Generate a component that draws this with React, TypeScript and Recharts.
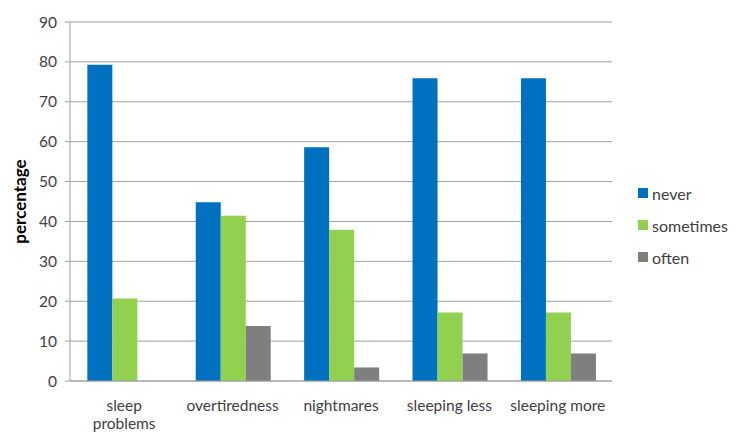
import { Bar, BarChart, CartesianGrid, Legend, XAxis, YAxis } from "recharts";

// Sleep-complaint survey: share of respondents per answer, Excel-style grouped bars.

const categories = ["sleep\nproblems", "overtiredness", "nightmares", "sleeping less", "sleeping more"];
const seriesNames = ["never", "sometimes", "often"];
const never = [79.3, 44.8, 58.6, 75.9, 75.9];
const sometimes = [20.7, 41.4, 37.9, 17.2, 17.2];
const often = [0, 13.8, 3.4, 6.9, 6.9];
const yTicks = [0, 10, 20, 30, 40, 50, 60, 70, 80, 90];
const boundaries = [0, 1, 2, 3, 4, 5];

const data = categories.map((name, i) => ({
  name,
  never: never[i],
  sometimes: sometimes[i],
  often: often[i],
}));

const FONT = "Lato, 'Open Sans', sans-serif";
const AXIS_GRAY = "#a0a0a0";
const LABEL = "#404040";

// category labels, baseline-positioned; "\n" splits a label over two lines
function CategoryTick({ x, payload }: { x?: number; y?: number; payload?: { value: string } }) {
  const lines = String(payload?.value ?? "").split("\n");
  return (
    <text x={x} textAnchor="middle" fill={LABEL} fontSize={15.5} fontFamily={FONT}>
      {lines.map((line, i) => (
        <tspan key={i} x={x} y={411 + i * 18}>
          {line}
        </tspan>
      ))}
    </text>
  );
}

// keeps the series order (never, sometimes, often) instead of the alphabetic default
function SideLegend({ payload }: { payload?: { value: string; color: string }[] }) {
  const items = seriesNames
    .map((n) => (payload ?? []).find((p) => p.value === n))
    .filter(Boolean) as { value: string; color: string }[];
  return (
    <div style={{ fontFamily: FONT, fontSize: 16, color: LABEL }}>
      {items.map((p) => (
        <div key={p.value} style={{ display: "flex", alignItems: "center", height: 32 }}>
          <span style={{ width: 10, height: 10, background: p.color, marginRight: 4, display: "inline-block" }} />
          {p.value}
        </div>
      ))}
    </div>
  );
}

export default function App() {
  return (
    <div style={{ position: "absolute", left: 0, top: 0, width: 736, height: 432, background: "#fff" }}>
      <BarChart
        width={736}
        height={432}
        data={data}
        margin={{ top: 22, right: 124, bottom: 11, left: 10 }}
        barCategoryGap="16%"
        barGap={0}
      >
        <CartesianGrid stroke={AXIS_GRAY} vertical={false} />
        <XAxis
          xAxisId="edges"
          type="number"
          domain={[0, 5]}
          ticks={boundaries}
          allowDataOverflow
          height={0}
          axisLine={false}
          tickSize={6}
          tickLine={{ stroke: AXIS_GRAY }}
          tickFormatter={() => ""}
        />
        <XAxis
          dataKey="name"
          height={40}
          tickLine={false}
          axisLine={{ stroke: AXIS_GRAY }}
          tick={<CategoryTick />}
          interval={0}
        />
        <YAxis
          width={60}
          domain={[0, 90]}
          ticks={yTicks}
          interval={0}
          axisLine={{ stroke: AXIS_GRAY }}
          tickLine={{ stroke: AXIS_GRAY }}
          tickSize={5}
          tickMargin={8}
          tick={{ fill: LABEL, fontSize: 15.5, fontFamily: FONT }}
          label={{
            value: "percentage",
            angle: -90,
            position: "insideLeft",
            offset: 0,
            dx: 10,
            style: { textAnchor: "middle", fontWeight: 700, fontSize: 17, fill: "#000", fontFamily: FONT },
          }}
        />
        <Legend
          layout="vertical"
          align="center"
          verticalAlign="middle"
          wrapperStyle={{ left: 638, top: 177, width: 98 }}
          content={<SideLegend />}
        />
        <Bar dataKey="never" fill="#0070C0" isAnimationActive={false} />
        <Bar dataKey="sometimes" fill="#92D050" isAnimationActive={false} />
        <Bar dataKey="often" fill="#7F7F7F" isAnimationActive={false} />
      </BarChart>
    </div>
  );
}
